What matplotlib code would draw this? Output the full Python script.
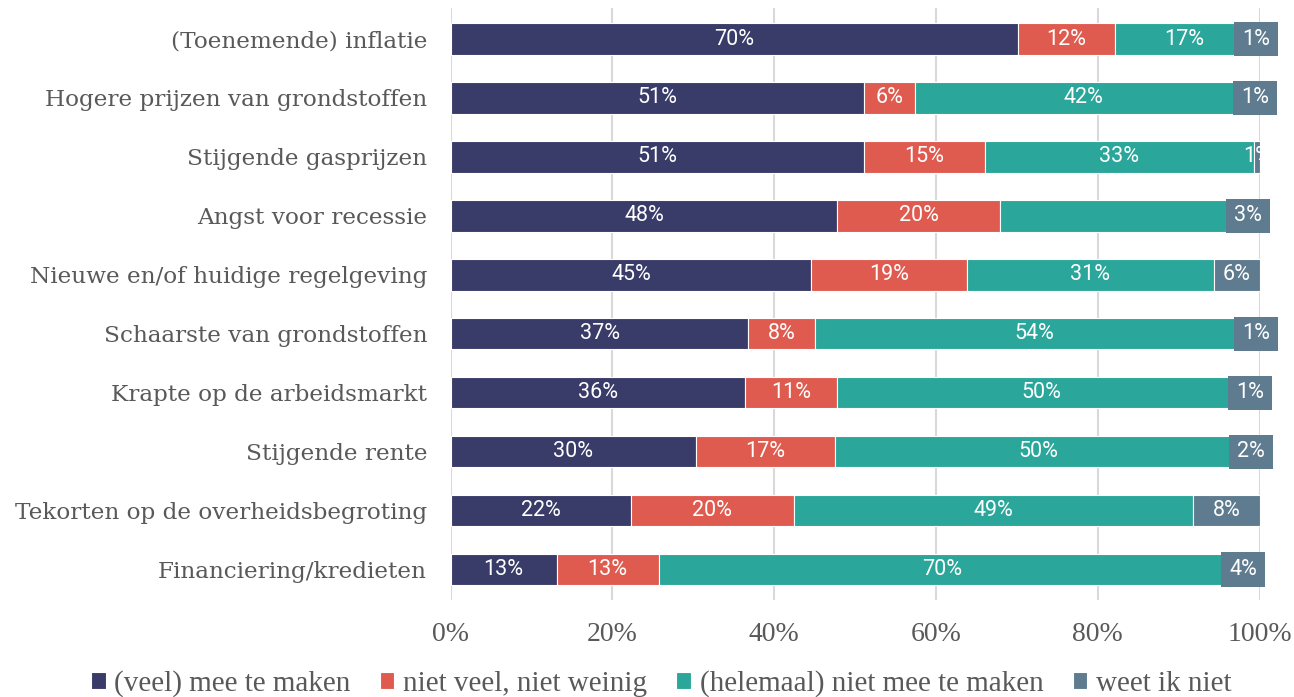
import numpy as np
import matplotlib
matplotlib.use("Agg")
import matplotlib.pyplot as plt
from matplotlib.patches import Rectangle

# Data (percentages)
categories = [
    "(Toenemende) inflatie",
    "Hogere prijzen van grondstoffen",
    "Stijgende gasprijzen",
    "Angst voor recessie",
    "Nieuwe en/of huidige regelgeving",
    "Schaarste van grondstoffen",
    "Krapte op de arbeidsmarkt",
    "Stijgende rente",
    "Tekorten op de overheidsbegroting",
    "Financiering/kredieten",
]
veel = [70.1, 51.1, 51.1, 47.8, 44.6, 36.8, 36.4, 30.3, 22.3, 13.1]
neutraal = [12.0, 6.3, 14.9, 20.1, 19.2, 8.3, 11.4, 17.2, 20.1, 12.6]
niet = [17.1, 41.6, 33.3, 29.2, 30.6, 54.0, 50.4, 50.3, 49.4, 70.2]
weet_niet = [0.8, 1.0, 0.7, 2.9, 5.6, 0.9, 1.3, 2.2, 8.2, 4.1]

series_names = ["(veel) mee te maken", "niet veel, niet weinig",
                "(helemaal) niet mee te maken", "weet ik niet"]
colors = ["#393b68", "#df5b50", "#2aa69a", "#5e7b8f"]

# how the "weet ik niet" label is shown per row
last_label_style = ["box", "box", "clip", "box", "plain",
                    "box", "box", "box", "plain", "box"]
# labels that are not shown (row, series)
hidden_labels = [(3, 2)]

ticks = [0, 20, 40, 60, 80, 100]

W, H = 1294, 697
fig = plt.figure(figsize=(W / 100, H / 100), dpi=100)
ax = fig.add_axes([450.7 / W, 1 - 600 / H, 808.8 / W, 592 / H])

y = np.arange(len(categories))
data = np.array([veel, neutraal, niet, weet_niet])
lefts = np.zeros(len(categories))
bar_h = 0.533
lab_font = dict(color="white", fontsize=15.5, family="Roboto")

for s in range(4):
    vals = data[s]
    ax.barh(y, vals, left=lefts, height=bar_h, color=colors[s],
            edgecolor="white", linewidth=0.8, zorder=3,
            label=series_names[s])
    for i, v in enumerate(vals):
        if (i, s) in hidden_labels:
            continue
        cx = lefts[i] + v / 2
        txt = f"{v:.0f}%"
        if s == 3 and last_label_style[i] == "box":
            bw = 5.44
            ax.add_patch(Rectangle((cx - bw / 2, i - 0.29), bw, 0.58,
                                   facecolor=colors[s], edgecolor="none",
                                   zorder=4, clip_on=False))
            ax.text(cx, i, txt, ha="center", va="center", zorder=5,
                    clip_on=False, **lab_font)
        elif s == 3 and last_label_style[i] == "clip":
            t = ax.text(cx, i, txt, ha="center", va="center", zorder=5,
                        **lab_font)
            t.set_clip_path(Rectangle((0, -1), 100, 20,
                                      transform=ax.transData))
        else:
            ax.text(cx, i, txt, ha="center", va="center", zorder=5,
                    **lab_font)
    lefts = lefts + vals

ax.set_xlim(0, 100)
ax.set_ylim(9.517, -0.526)
ax.set_yticks(y)
ax.set_yticklabels(categories, family="DejaVu Serif", fontsize=16.7,
                   color="#595959")
ax.set_xticks(ticks)
ax.set_xticklabels([f"{t}%" for t in ticks], family="Liberation Serif",
                   fontsize=20, color="#595959")
ax.tick_params(axis="y", length=0, pad=17)
ax.tick_params(axis="x", length=0, pad=16)
for sp in ax.spines.values():
    sp.set_visible(False)
ax.grid(axis="x", color="#d9d9d9", linewidth=1.5, zorder=0)
ax.set_axisbelow(True)

leg = fig.legend(loc="lower center", bbox_to_anchor=(0.511, -0.038),
                 ncol=4, frameon=False, handlelength=0.5, handleheight=0.5,
                 handletextpad=0.3, columnspacing=1.0,
                 prop={"family": "Liberation Serif", "size": 21})
for t in leg.get_texts():
    t.set_color("#595959")

fig.savefig("out.png", dpi=100)
